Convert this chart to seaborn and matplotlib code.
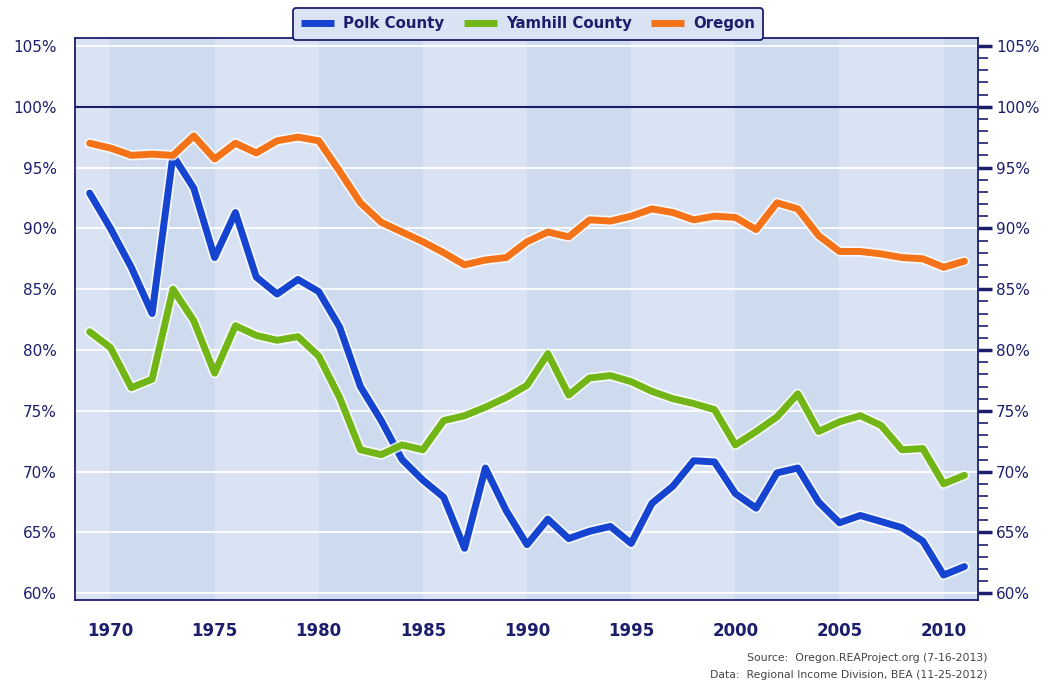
import numpy as np
import pandas as pd
import matplotlib
matplotlib.use("Agg")
import matplotlib.pyplot as plt
import matplotlib.patheffects as pe
from matplotlib.ticker import MultipleLocator, FuncFormatter
import seaborn as sns

years = list(range(1969, 2012))

polk = [92.9, 90.0, 86.8, 83.0, 96.0, 93.3, 87.6, 91.3, 86.0, 84.6,
        85.8, 84.8, 81.9, 77.0, 74.2, 71.0, 69.3, 67.9, 63.7, 70.3,
        66.8, 64.0, 66.1, 64.5, 65.1, 65.5, 64.1, 67.4, 68.8, 70.9,
        70.8, 68.2, 67.0, 69.9, 70.3, 67.5, 65.8, 66.4, 65.9, 65.4,
        64.3, 61.5, 62.2]

yamhill = [81.5, 80.2, 76.9, 77.6, 85.0, 82.4, 78.1, 82.0, 81.2, 80.8,
           81.1, 79.5, 76.1, 71.8, 71.4, 72.2, 71.8, 74.2, 74.6, 75.3,
           76.1, 77.1, 79.7, 76.3, 77.7, 77.9, 77.4, 76.6, 76.0, 75.6,
           75.1, 72.2, 73.3, 74.5, 76.4, 73.3, 74.1, 74.6, 73.8, 71.8,
           71.9, 69.0, 69.7]

oregon = [97.0, 96.6, 96.0, 96.1, 96.0, 97.6, 95.7, 97.0, 96.2, 97.2,
          97.5, 97.2, 94.7, 92.1, 90.5, 89.7, 88.9, 88.0, 87.0, 87.4,
          87.6, 88.9, 89.7, 89.3, 90.7, 90.6, 91.0, 91.6, 91.3, 90.7,
          91.0, 90.9, 89.9, 92.1, 91.6, 89.4, 88.1, 88.1, 87.9, 87.6,
          87.5, 86.8, 87.3]

names = ["Polk County", "Yamhill County", "Oregon"]
colors = ["#1444D0", "#72B516", "#F47318"]

navy = "#1C1E6B"
bg_light = "#DAE3F3"
bg_dark = "#CEDAEE"

df = pd.DataFrame({
    "year": years * 3,
    "value": polk + yamhill + oregon,
    "area": [names[0]] * len(years) + [names[1]] * len(years) + [names[2]] * len(years),
})

sns.set_style("white")
plt.rcParams["font.family"] = ["DejaVu Sans"]

fig = plt.figure(figsize=(10.51, 6.83), dpi=100)
ax = fig.add_axes([0.0714, 0.1215, 0.8591, 0.8229])
ax.set_facecolor(bg_light)

x0, x1 = 1968.3, 2011.65
for start in [1970, 1980, 1990, 2000, 2010]:
    ax.axvspan(start, min(start + 5, x1), color=bg_dark, lw=0, zorder=0)

sns.lineplot(data=df, x="year", y="value", hue="area", palette=colors,
             hue_order=names, linewidth=5.0, ax=ax, zorder=3)
for ln in ax.lines:
    ln.set_path_effects([pe.Stroke(linewidth=7.5, foreground="white", alpha=0.8), pe.Normal()])
    ln.set_solid_capstyle("round")
    ln.set_solid_joinstyle("round")

ax.axhline(100, color=navy, lw=1.5, zorder=2)

ax.set_xlim(x0, x1)
ax.set_ylim(59.45, 105.65)
ax.yaxis.set_major_locator(MultipleLocator(5))
ax.yaxis.set_minor_locator(MultipleLocator(1))
ax.xaxis.set_major_locator(MultipleLocator(5))
ax.xaxis.set_minor_locator(MultipleLocator(1))
ax.yaxis.set_major_formatter(FuncFormatter(lambda v, p: f"{v:.0f}%"))
ax.grid(axis="y", which="major", color="white", lw=1.3, zorder=1)
ax.grid(axis="x", visible=False)
ax.set_axisbelow(True)

for s in ax.spines.values():
    s.set_color(navy)
    s.set_linewidth(1.3)

ax.tick_params(axis="y", which="major", direction="out", length=10, width=2.5,
               color=navy, labelcolor=navy, labelsize=11, right=True, labelright=True, pad=3)
ax.tick_params(axis="y", which="minor", direction="out", length=7, width=1.2,
               color=navy, right=True)
ax.tick_params(axis="x", which="major", direction="out", length=12, width=2.5,
               color=navy, labelcolor=navy, labelsize=12, pad=4)
ax.tick_params(axis="x", which="minor", direction="out", length=7, width=1.2, color=navy)
for lab in ax.get_xticklabels():
    lab.set_fontweight("bold")
ax.set_xlabel("")
ax.set_ylabel("")

leg = ax.legend(loc="lower center", bbox_to_anchor=(0.502, 0.997), ncol=3,
                frameon=True, fancybox=True, handlelength=2.2, handletextpad=0.6,
                columnspacing=1.3, borderpad=0.55, borderaxespad=0, fontsize=10.8)
leg.get_frame().set_edgecolor(navy)
leg.get_frame().set_facecolor(bg_light)
leg.get_frame().set_alpha(1)
leg.get_frame().set_linewidth(1.3)
for t in leg.get_texts():
    t.set_color(navy)
    t.set_fontweight("bold")
for h in leg.get_lines():
    h.set_linewidth(5)
    h.set_path_effects([])
    h.set_solid_capstyle("butt")

fig.text(0.94, 0.032, "Source:  Oregon.REAProject.org (7-16-2013)", ha="right",
         fontsize=7.8, color="#444444")
fig.text(0.94, 0.008, "Data:  Regional Income Division, BEA (11-25-2012)", ha="right",
         fontsize=7.8, color="#444444")

fig.savefig("out.png", dpi=100)
